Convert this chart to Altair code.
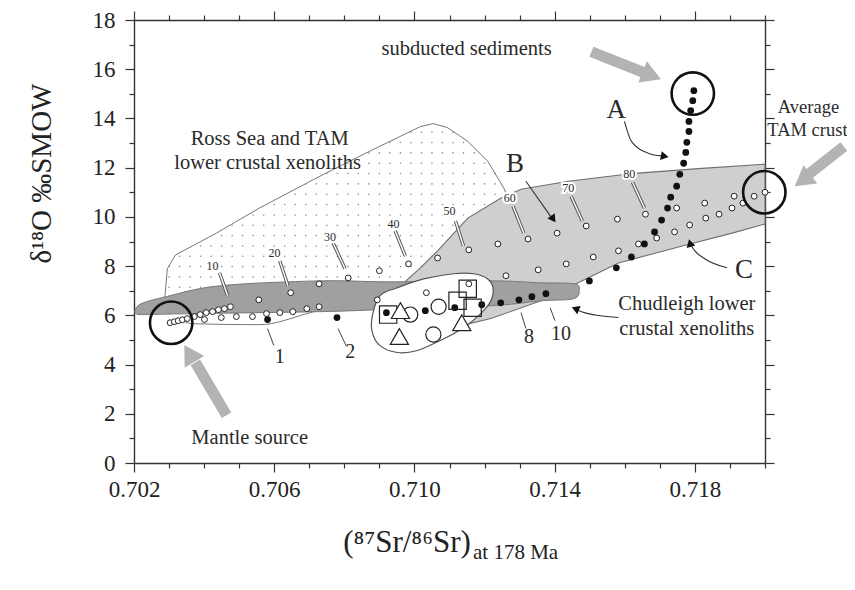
import altair as alt
import numpy as np
import pandas as pd

# ---------------- data ----------------
x_ticks = [round(0.702 + 0.001 * i, 3) for i in range(19)]
y_ticks = list(range(0, 19))

# Ross Sea and TAM lower crustal xenolith field (dotted)
ross_sr = [0.70286, 0.70295, 0.70318, 0.70372, 0.70435, 0.70558, 0.70730, 0.70854, 0.71017, 0.71054,
           0.71094, 0.71152, 0.71209, 0.71255, 0.71289, 0.71318, 0.71304, 0.71189, 0.70759, 0.70386, 0.70289]
ross_o = [6.39, 7.89, 8.45, 8.86, 9.34, 10.36, 11.65, 12.54, 13.67, 13.79,
          13.63, 13.07, 12.26, 11.17, 10.03, 8.62, 7.00, 6.59, 6.27, 6.19, 6.19]

# field B (light grey)
b_sr = [0.70917, 0.70960, 0.71017, 0.71066, 0.71152, 0.71246, 0.71304, 0.71439, 0.71628, 0.71820,
        0.72000, 0.72000, 0.71906, 0.71786, 0.71582, 0.71467, 0.71361, 0.71218, 0.71074, 0.70960]
b_o = [6.59, 7.20, 7.93, 8.62, 9.95, 10.76, 11.12, 11.45, 11.77, 11.97,
       12.14, 9.71, 9.34, 8.90, 8.13, 7.32, 6.59, 5.87, 5.38, 5.38]

# darker band
band_sr = [0.70203, 0.70220, 0.70292, 0.70444, 0.70730, 0.70931, 0.71224, 0.71361, 0.71456, 0.71470,
           0.71453, 0.71361, 0.71218, 0.70902, 0.70730, 0.70366, 0.70229, 0.70206]
band_o = [6.19, 6.47, 6.76, 7.20, 7.40, 7.36, 7.40, 7.32, 7.28, 7.00,
          6.67, 6.59, 6.39, 6.23, 6.15, 6.07, 6.03, 6.07]

# Chudleigh field (white ellipse)
ell_sr = [0.70880, 0.70902, 0.70951, 0.71026, 0.71112, 0.71169, 0.71209, 0.71224, 0.71218, 0.71189,
          0.71140, 0.71074, 0.71008, 0.70951, 0.70902, 0.70880]
ell_o = [5.99, 6.80, 7.12, 7.48, 7.69, 7.69, 7.48, 7.12, 6.59, 6.07,
         5.50, 4.98, 4.57, 4.49, 4.77, 5.30]

# lower envelope line
env_sr = [0.70338, 0.70366, 0.70558, 0.70693, 0.70759]
env_o = [5.78, 5.66, 5.62, 6.07, 6.35]

# mixing curves: open circles
upper_sr = [0.70303, 0.70315, 0.70326, 0.70338, 0.70352, 0.70372, 0.70389, 0.70406, 0.70424, 0.70441,
            0.70458, 0.70475, 0.70556, 0.70647, 0.70728, 0.70811, 0.70900, 0.70983, 0.71066, 0.71155,
            0.71238, 0.71324, 0.71407, 0.71490, 0.71579, 0.71659, 0.71748, 0.71828, 0.71912, 0.71969, 0.72000]
upper_o = [5.70, 5.74, 5.78, 5.82, 5.87, 5.95, 6.03, 6.11, 6.15, 6.23,
           6.27, 6.35, 6.63, 6.92, 7.28, 7.52, 7.81, 8.09, 8.33, 8.66,
           8.90, 9.10, 9.34, 9.63, 9.91, 10.11, 10.36, 10.56, 10.84, 10.84, 11.00]
lower_sr = [0.70401, 0.70449, 0.70492, 0.70538, 0.70578, 0.70616, 0.70653, 0.70693, 0.70728, 0.70894,
            0.71034, 0.71155, 0.71261, 0.71353, 0.71433, 0.71510, 0.71582, 0.71639, 0.71691, 0.71742,
            0.71785, 0.71831, 0.71869, 0.71906, 0.71937]
lower_o = [5.83, 5.91, 5.95, 5.95, 6.07, 6.11, 6.15, 6.27, 6.35, 6.63,
           6.92, 7.28, 7.61, 7.85, 8.09, 8.37, 8.62, 8.90, 9.14, 9.39,
           9.67, 9.95, 10.11, 10.36, 10.56]

# mixing curve: filled dots
dots_sr = [0.70581, 0.70779, 0.70920, 0.71031, 0.71115, 0.71192, 0.71246, 0.71298, 0.71335, 0.71375,
           0.71499, 0.71576, 0.71619, 0.71656, 0.71685, 0.71705, 0.71722, 0.71731, 0.71748, 0.71757,
           0.71768, 0.71774, 0.71777, 0.71783, 0.71783, 0.71788, 0.71794, 0.71797]
dots_o = [5.83, 5.91, 6.11, 6.19, 6.31, 6.43, 6.51, 6.63, 6.76, 6.88,
          7.40, 7.93, 8.37, 8.90, 9.39, 9.87, 10.36, 10.80, 11.25, 11.73,
          12.18, 12.62, 13.03, 13.47, 13.88, 14.32, 14.72, 15.13]

# Chudleigh samples
sq_sr = [0.70925, 0.71152, 0.71123, 0.71166]
sq_o = [6.03, 7.08, 6.59, 6.31]
tri_sr = [0.70960, 0.70957, 0.71135]
tri_o = [6.19, 5.14, 5.70]
cir_sr = [0.70988, 0.71069, 0.71054]
cir_o = [6.03, 6.35, 5.22]

# end-member circles: mantle source, subducted sediments, average TAM crust
big_sr = [0.70306, 0.71794, 0.71998]
big_o = [5.70, 15.01, 11.00]

# mixing percentage labels (small) and leader lines
pct_text = ["10", "20", "30", "40", "50", "60", "70", "80"]
pct_sr = [0.70424, 0.70601, 0.70759, 0.70940, 0.71100, 0.71272, 0.71439, 0.71613]
pct_o = [8.01, 8.54, 9.18, 9.71, 10.23, 10.76, 11.17, 11.73]
pct_l_sr1 = [0.70444, 0.70616, 0.70768, 0.70945, 0.71117, 0.71281, 0.71447, 0.71622]
pct_l_o1 = [7.73, 8.21, 8.94, 9.43, 9.83, 10.44, 10.84, 11.41]
pct_l_sr2 = [0.70467, 0.70639, 0.70802, 0.70974, 0.71140, 0.71312, 0.71479, 0.71656]
pct_l_o2 = [6.80, 7.20, 7.89, 8.41, 8.82, 9.34, 9.83, 10.36]

# numbers below dots curve
num_text = ["1", "2", "8", "10"]
num_sr = [0.70616, 0.70817, 0.71327, 0.71418]
num_o = [4.29, 4.49, 5.10, 5.26]
num_l_sr1 = [0.70581, 0.70782, 0.71304, 0.71387]
num_l_o1 = [5.46, 5.46, 6.11, 6.31]
num_l_sr2 = [0.70599, 0.70805, 0.71318, 0.71401]
num_l_o2 = [4.77, 4.77, 5.46, 5.78]

# annotations
ann_text = ["subducted sediments", "Ross Sea and TAM", "lower crustal xenoliths",
            "Chudleigh lower", "crustal xenoliths", "Mantle source"]
ann_sr = [0.71149, 0.70587, 0.70581, 0.71777, 0.71777, 0.70530]
ann_o = [16.83, 13.15, 12.18, 6.47, 5.46, 1.01]
side_text = ["Average", "TAM crust"]
side_sr = [0.72124, 0.72121]
side_o = [14.48, 13.55]

let_text = ["A", "B", "C"]
let_sr = [0.71576, 0.71287, 0.71940]
let_o = [14.36, 12.14, 7.85]

# big grey arrows (tail -> head)
garrow_id = ["sed", "sed", "tam", "tam", "man", "man"]
garrow_sr = [0.71505, 0.71662, 0.72225, 0.72121, 0.70464, 0.70375]
garrow_o = [16.71, 15.82, 12.86, 11.69, 1.94, 4.09]
ghead_sr = [0.71677, 0.72107, 0.70358]
ghead_o = [15.74, 11.49, 4.45]
ghead_angle = [112, 233, 329]

# thin black arrows
tarrow_id = ["A", "A", "A", "A", "B", "B", "C", "C", "C", "C", "D", "D", "D", "D"]
tarrow_sr = [0.71599, 0.71619, 0.71668, 0.71705, 0.71318, 0.71390,
             0.71892, 0.71829, 0.71800, 0.71789, 0.71582, 0.71525, 0.71485, 0.71465]
tarrow_o = [13.88, 13.07, 12.58, 12.48, 11.45, 9.99,
            7.93, 8.29, 8.62, 8.85, 5.91, 5.99, 6.11, 6.22]
thead_sr = [0.71714, 0.71396, 0.71786, 0.71459]
thead_o = [12.46, 9.91, 8.94, 6.27]
thead_angle = [101, 145, 345, 292]

# axis title pieces
xtitle_main = "(⁸⁷Sr/⁸⁶Sr)"
xtitle_sub = "at 178 Ma"
xtitle_sr = [0.71161, 0.71167]
xtitle_o = [-3.60, -3.92]
ytitle = "δ¹⁸O ‰SMOW"

# ---------------- build tables ----------------
def poly(xs, ys):
    return pd.DataFrame({"x": xs, "y": ys, "i": range(len(xs))})

def pts(xs, ys, **extra):
    d = pd.DataFrame({"x": xs, "y": ys})
    for k, v in extra.items():
        d[k] = v
    return d

def inside(px, py, xs, ys):
    c = False
    j = len(xs) - 1
    for i in range(len(xs)):
        if (ys[i] > py) != (ys[j] > py):
            xc = (xs[j] - xs[i]) * (py - ys[i]) / (ys[j] - ys[i]) + xs[i]
            if px < xc:
                c = not c
        j = i
    return c

# dot texture of the Ross Sea field
tex = [(gx, gy) for gx in np.arange(0.70300, 0.71340, 0.0003)
       for gy in np.arange(6.3, 14.0, 0.42) if inside(gx, gy, ross_sr, ross_o)]
tex_df = pd.DataFrame(tex, columns=["x", "y"])

FONT = "Liberation Serif"
INK = "#2a2a2a"

xscale = alt.Scale(domain=[0.702, 0.720], nice=False, zero=False)
yscale = alt.Scale(domain=[0, 18], nice=False, zero=False)

axis_common = dict(grid=False, domainColor="#333", domainWidth=1.4, tickColor="#333", tickWidth=1.2,
                   labelFont=FONT, labelFontSize=23, labelColor="#222", labelOverlap=False,
                   labelFlush=False)
xaxis = alt.Axis(values=x_ticks, title=None, labelPadding=6,
                 tickSize={"condition": {"test": "round(datum.value*1000) % 4 == 2", "value": 9}, "value": 5},
                 labelExpr="round(datum.value*1000) % 4 == 2 ? format(datum.value, '.3f') : ''",
                 **axis_common)
yaxis = alt.Axis(values=y_ticks, title=ytitle, titleFont=FONT, titleFontSize=29, titleFontWeight="normal",
                 titleColor="#222", titleX=-78, titleY=153, titleAlign="center", titleBaseline="bottom",
                 labelPadding=10,
                 tickSize={"condition": {"test": "datum.value % 2 == 0", "value": 9}, "value": 5},
                 labelExpr="datum.value % 2 == 0 ? datum.label : ''",
                 **axis_common)

X = alt.X("x:Q", scale=xscale, axis=xaxis)
Y = alt.Y("y:Q", scale=yscale, axis=yaxis)

def base(df):
    return alt.Chart(df)

layers = []
# Ross field
layers.append(base(poly(ross_sr, ross_o)).mark_line(interpolate="linear-closed", fill="white",
              stroke="#777", strokeWidth=1).encode(x=X, y=Y, order="i:Q"))
layers.append(base(tex_df).mark_circle(size=2.5, color="#8a8a8a", opacity=1).encode(x=X, y=Y))
# field B
layers.append(base(poly(b_sr, b_o)).mark_line(interpolate="linear-closed", fill="#cfcfcf",
              stroke="#6f6f6f", strokeWidth=1.1).encode(x=X, y=Y, order="i:Q"))
# envelope
layers.append(base(poly(env_sr, env_o)).mark_line(interpolate="monotone", stroke="#777",
              strokeWidth=1).encode(x=X, y=Y, order="i:Q"))
# dark band
layers.append(base(poly(band_sr, band_o)).mark_line(interpolate="cardinal-closed", fill="#a0a0a0",
              stroke="#777", strokeWidth=1).encode(x=X, y=Y, order="i:Q"))
# ellipse
layers.append(base(poly(ell_sr, ell_o)).mark_line(interpolate="cardinal-closed", fill="white",
              stroke="#555", strokeWidth=1.2).encode(x=X, y=Y, order="i:Q"))

# leader lines for percentages (white with dark outline)
pl = pd.DataFrame({"x": pct_l_sr1, "y": pct_l_o1, "x2": pct_l_sr2, "y2": pct_l_o2})
layers.append(base(pl).mark_rule(color="#555", strokeWidth=3.4).encode(x=X, y=Y, x2="x2:Q", y2="y2:Q"))
layers.append(base(pl).mark_rule(color="white", strokeWidth=1.4).encode(x=X, y=Y, x2="x2:Q", y2="y2:Q"))
pt = pts(pct_sr, pct_o, t=pct_text)
layers.append(base(pt).mark_text(font=FONT, fontSize=12, color="white", stroke="white", strokeWidth=4)
              .encode(x=X, y=Y, text="t:N"))
layers.append(base(pt).mark_text(font=FONT, fontSize=12, color=INK).encode(x=X, y=Y, text="t:N"))

# open circles on mixing curves
layers.append(base(pts(upper_sr + lower_sr, upper_o + lower_o)).mark_circle(
    size=34, fill="white", stroke="#222", strokeWidth=1, opacity=1).encode(x=X, y=Y))
# filled dots
layers.append(base(pts(dots_sr, dots_o)).mark_circle(size=46, color="#111", opacity=1).encode(x=X, y=Y))

# Chudleigh samples
layers.append(base(pts(sq_sr, sq_o)).mark_point(shape="square", size=300, filled=False, color="#222",
              strokeWidth=1.2, opacity=1).encode(x=X, y=Y))
layers.append(base(pts(cir_sr, cir_o)).mark_point(shape="circle", size=230, filled=False, color="#222",
              strokeWidth=1.2, opacity=1).encode(x=X, y=Y))
layers.append(base(pts(tri_sr, tri_o)).mark_point(shape="triangle-up", size=330, fill="white",
              stroke="#222", strokeWidth=1.2, opacity=1).encode(x=X, y=Y))

# end-member circles
layers.append(base(pts(big_sr, big_o)).mark_point(shape="circle", size=1800, filled=False, color="#111",
              strokeWidth=2.6, opacity=1).encode(x=X, y=Y))

# grey arrows
ga = pd.DataFrame({"x": garrow_sr, "y": garrow_o, "a": garrow_id, "i": range(len(garrow_sr))})
layers.append(base(ga).mark_line(color="#b3b3b3", strokeWidth=11, strokeCap="butt").encode(
    x=X, y=Y, detail="a:N", order="i:Q"))
gh = pts(ghead_sr, ghead_o, ang=ghead_angle)
layers.append(base(gh).mark_point(shape="triangle-up", size=520, filled=True, color="#b3b3b3", opacity=1)
              .encode(x=X, y=Y, angle=alt.Angle("ang:Q", scale=None)))

# thin arrows
ta = pd.DataFrame({"x": tarrow_sr, "y": tarrow_o, "a": tarrow_id, "i": range(len(tarrow_sr))})
layers.append(base(ta).mark_line(color="#333", strokeWidth=1.1, interpolate="monotone").encode(
    x=X, y=Y, detail="a:N", order="i:Q"))
th = pts(thead_sr, thead_o, ang=thead_angle)
layers.append(base(th).mark_point(shape="triangle-up", size=80, filled=True, color="#111", opacity=1)
              .encode(x=X, y=Y, angle=alt.Angle("ang:Q", scale=None)))

# number labels & leaders below dots
nl = pd.DataFrame({"x": num_l_sr1, "y": num_l_o1, "x2": num_l_sr2, "y2": num_l_o2})
layers.append(base(nl).mark_rule(color="#444", strokeWidth=1).encode(x=X, y=Y, x2="x2:Q", y2="y2:Q"))
layers.append(base(pts(num_sr, num_o, t=num_text)).mark_text(font=FONT, fontSize=20, color=INK)
              .encode(x=X, y=Y, text="t:N"))

# annotations
layers.append(base(pts(ann_sr, ann_o, t=ann_text)).mark_text(font=FONT, fontSize=20.5, color=INK)
              .encode(x=X, y=Y, text="t:N"))
layers.append(base(pts(side_sr, side_o, t=side_text)).mark_text(font=FONT, fontSize=18.5, color=INK)
              .encode(x=X, y=Y, text="t:N"))
layers.append(base(pts(let_sr, let_o, t=let_text)).mark_text(font=FONT, fontSize=27, color=INK)
              .encode(x=X, y=Y, text="t:N"))

# x-axis title (main + subscript)
layers.append(base(pts(xtitle_sr[:1], xtitle_o[:1], t=[xtitle_main])).mark_text(
    font=FONT, fontSize=31, color="#222", align="right", baseline="alphabetic").encode(x=X, y=Y, text="t:N"))
layers.append(base(pts(xtitle_sr[1:], xtitle_o[1:], t=[xtitle_sub])).mark_text(
    font=FONT, fontSize=21, color="#222", align="left", baseline="alphabetic").encode(x=X, y=Y, text="t:N"))

main = alt.layer(*layers)

# frame: top and right axes
frame_common = dict(grid=False, domainColor="#333", domainWidth=1.4, tickColor="#333", tickWidth=1.2,
                    labels=False, title=None)
frame = alt.Chart(pd.DataFrame({"x": [0.702], "y": [0.0]})).mark_point(opacity=0).encode(
    x=alt.X("x:Q", scale=xscale, axis=alt.Axis(orient="top", values=x_ticks,
            tickSize={"condition": {"test": "round(datum.value*1000) % 4 == 2", "value": 9}, "value": 5},
            **frame_common)),
    y=alt.Y("y:Q", scale=yscale, axis=alt.Axis(orient="right", values=y_ticks,
            tickSize={"condition": {"test": "datum.value % 2 == 0", "value": 9}, "value": 5},
            **frame_common)),
)

chart = alt.layer(main, frame).resolve_axis(x="independent", y="independent").properties(
    width=631, height=443,
    autosize=alt.AutoSizeParams(type="none"),
    padding={"left": 126, "top": 12, "right": 82, "bottom": 119},
).configure_view(stroke=None)

chart.save("out.html", embed_options={"renderer": "svg", "actions": False})
